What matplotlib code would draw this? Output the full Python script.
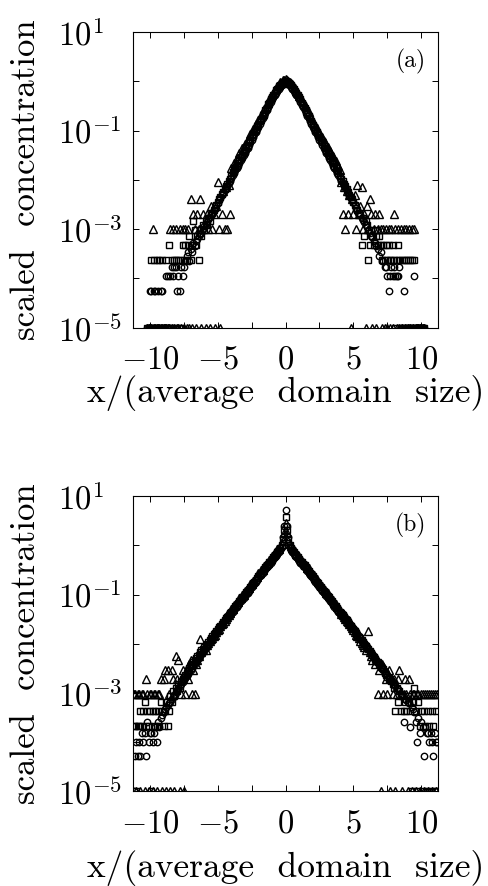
import numpy as np
import matplotlib
matplotlib.use("Agg")
import matplotlib.pyplot as plt
from matplotlib.ticker import NullLocator, FixedLocator

plt.rcParams['font.family'] = 'cmr10'
plt.rcParams['mathtext.fontset'] = 'cm'
plt.rcParams['axes.unicode_minus'] = False

# sites with no particles are put on the bottom edge of the plot
FLOOR = 1e-5

# ---------------- panel (a) ----------------
# log10 of scaled concentration near the centre, x = -4.0 ... 4.0 in steps of 0.1
tri_a_core = [-1.76, -1.77, -1.66, -1.67, -1.56, -1.57, -1.46, -1.47, -1.35, -1.36,
              -1.28, -1.29, -1.18, -1.19, -1.07, -1.08, -0.97, -0.98, -0.86, -0.87,
              -0.79, -0.77, -0.68, -0.66, -0.57, -0.55, -0.46, -0.44, -0.36, -0.33,
              -0.27, -0.24, -0.18, -0.15, -0.09, -0.07, -0.02, -0.01, 0.02, 0.03,
              0.04,
              0.03, 0.01, -0.01, -0.04, -0.06, -0.11, -0.14, -0.20, -0.23, -0.29,
              -0.31, -0.38, -0.42, -0.49, -0.52, -0.60, -0.63, -0.71, -0.74, -0.82,
              -0.84, -0.91, -0.95, -1.02, -1.04, -1.11, -1.13, -1.22, -1.24, -1.32,
              -1.33, -1.40, -1.42, -1.50, -1.52, -1.60, -1.62, -1.70, -1.72, -1.80]
sq_a_core = [-1.92, -1.85, -1.82, -1.75, -1.72, -1.65, -1.62, -1.54, -1.51, -1.44,
             -1.41, -1.34, -1.31, -1.23, -1.20, -1.13, -1.10, -1.02, -0.99, -0.91,
             -0.88, -0.80, -0.77, -0.69, -0.66, -0.58, -0.55, -0.47, -0.44, -0.36,
             -0.33, -0.27, -0.24, -0.18, -0.15, -0.10, -0.08, -0.04, -0.03, -0.01,
             0.00,
             -0.01, -0.03, -0.05, -0.08, -0.11, -0.15, -0.19, -0.24, -0.28, -0.33,
             -0.37, -0.44, -0.48, -0.55, -0.59, -0.66, -0.70, -0.77, -0.81, -0.88,
             -0.92, -0.99, -1.03, -1.10, -1.14, -1.20, -1.24, -1.31, -1.35, -1.41,
             -1.45, -1.51, -1.55, -1.62, -1.66, -1.72, -1.76, -1.82, -1.86, -1.92]
circ_a_core = [-1.96, -1.91, -1.86, -1.81, -1.76, -1.71, -1.66, -1.60, -1.55, -1.50,
               -1.45, -1.40, -1.35, -1.29, -1.24, -1.19, -1.14, -1.08, -1.03, -0.97,
               -0.92, -0.86, -0.81, -0.75, -0.70, -0.64, -0.59, -0.53, -0.48, -0.42,
               -0.37, -0.32, -0.27, -0.23, -0.19, -0.15, -0.11, -0.08, -0.06, -0.05,
               -0.04,
               -0.05, -0.06, -0.08, -0.11, -0.15, -0.19, -0.23, -0.27, -0.32, -0.37,
               -0.42, -0.48, -0.53, -0.59, -0.64, -0.70, -0.75, -0.81, -0.86, -0.92,
               -0.97, -1.03, -1.08, -1.14, -1.19, -1.24, -1.29, -1.35, -1.40, -1.45,
               -1.50, -1.55, -1.60, -1.66, -1.71, -1.76, -1.81, -1.86, -1.91, -1.96]

# particle counts in the tails, x = -10.2 ... -4.1 and 4.1 ... 10.2 in steps of 0.1
tri_a_left = [0, 0, 0, 0, 1, 0, 0, 0, 0, 0,
              0, 0, 0, 0, 0, 0, 0, 1, 0, 1,
              0, 1, 0, 0, 1, 0, 1, 0, 1, 0,
              1, 0, 4, 0, 2, 1, 0, 2, 1, 4,
              0, 2, 1, 0, 2, 1, 0, 3, 1, 2,
              0, 3, 9, 1, 0, 2, 6, 1, 7, 1,
              8, 2]
tri_a_right = [9, 2, 7, 1, 6, 2, 5, 0, 4, 2,
               5, 1, 8, 2, 3, 7, 1, 2, 0, 3,
               1, 4, 2, 0, 1, 2, 0, 1, 2, 1,
               0, 1, 0, 1, 0, 1, 0, 1, 0, 2,
               1, 0, 1, 0, 1, 0, 1, 0, 1, 0,
               1, 0, 1, 0, 1, 0, 0, 0, 0, 0,
               0, 0]
sq_a_left = [0, 0, 0, 1, 0, 1, 0, 1, 0, 1,
             0, 1, 0, 0, 1, 0, 2, 0, 1, 0,
             1, 1, 0, 1, 1, 0, 2, 1, 2, 1,
             2, 3, 1, 2, 6, 4, 2, 3, 1, 4,
             3, 5, 4, 6, 5, 7, 6, 8, 9, 10,
             11, 13, 15, 17, 19, 22, 24, 27, 31, 35,
             39, 44]
sq_a_right = [43, 39, 34, 31, 27, 24, 21, 19, 17, 15,
              13, 11, 10, 9, 8, 2, 7, 3, 6, 5,
              1, 2, 4, 3, 2, 4, 3, 2, 3, 2,
              1, 2, 1, 2, 1, 2, 1, 1, 2, 1,
              0, 1, 2, 1, 0, 1, 1, 0, 1, 1,
              0, 1, 1, 0, 1, 0, 0, 0, 0, 0,
              0, 0]
circ_a_left = [0, 0, 1, 1, 0, 1, 1, 0, 1, 0,
               1, 1, 0, 0, 2, 2, 0, 2, 3, 2,
               3, 3, 1, 2, 1, 3, 2, 3, 4, 5,
               6, 4, 7, 6, 9, 8, 10, 11, 13, 14,
               15, 18, 20, 22, 25, 28, 31, 35, 38, 43,
               48, 54, 60, 68, 76, 85, 95, 107, 120, 134,
               150, 168]
circ_a_right = [170, 152, 136, 121, 108, 96, 86, 77, 69, 61,
                54, 48, 43, 38, 34, 30, 27, 24, 21, 19,
                17, 15, 13, 12, 10, 9, 8, 7, 5, 6,
                4, 4, 3, 3, 2, 1, 2, 3, 2, 3,
                2, 2, 2, 3, 0, 0, 1, 0, 0, 0,
                0, 0, 0, 0, 2, 0, 0, 0, 0, 0,
                0, 0]
# concentration of one particle for each curve
q_a = [1.0e-3, 2.4e-4, 5.7e-5]

# ---------------- panel (b) ----------------
tri_b_core = [-1.29, -1.29, -1.22, -1.22, -1.15, -1.15, -1.08, -1.08, -1.00, -1.00,
              -0.93, -0.93, -0.86, -0.86, -0.79, -0.79, -0.72, -0.72, -0.64, -0.64,
              -0.57, -0.57, -0.50, -0.50, -0.43, -0.43, -0.36, -0.36, -0.29, -0.28,
              -0.21, -0.21, -0.14, -0.14, -0.08, -0.07, -0.01, 0.02, 0.08, 0.25,
              0.45,
              0.25, 0.08, 0.02, -0.02, -0.06, -0.10, -0.12, -0.17, -0.19, -0.24,
              -0.26, -0.31, -0.33, -0.39, -0.40, -0.46, -0.47, -0.53, -0.54, -0.60,
              -0.61, -0.67, -0.68, -0.75, -0.76, -0.82, -0.83, -0.89, -0.90, -0.96,
              -0.97, -1.04, -1.05, -1.11, -1.12, -1.18, -1.19, -1.25, -1.26, -1.32]
sq_b_core = [-1.35, -1.31, -1.28, -1.24, -1.21, -1.17, -1.13, -1.10, -1.06, -1.03,
             -0.99, -0.95, -0.92, -0.88, -0.85, -0.81, -0.77, -0.74, -0.70, -0.67,
             -0.63, -0.59, -0.56, -0.52, -0.49, -0.45, -0.41, -0.38, -0.34, -0.31,
             -0.27, -0.24, -0.20, -0.17, -0.13, -0.09, -0.05, 0.00, 0.12, 0.32,
             0.58,
             0.32, 0.12, 0.00, -0.05, -0.09, -0.13, -0.17, -0.20, -0.24, -0.27,
             -0.31, -0.34, -0.38, -0.41, -0.45, -0.49, -0.52, -0.56, -0.59, -0.63,
             -0.67, -0.70, -0.74, -0.77, -0.81, -0.85, -0.88, -0.92, -0.95, -0.99,
             -1.03, -1.06, -1.10, -1.13, -1.17, -1.21, -1.24, -1.28, -1.31, -1.35]
circ_b_core = [-1.39, -1.35, -1.32, -1.28, -1.25, -1.21, -1.17, -1.14, -1.10, -1.07,
               -1.03, -0.99, -0.96, -0.92, -0.89, -0.85, -0.81, -0.78, -0.74, -0.71,
               -0.67, -0.63, -0.60, -0.56, -0.53, -0.49, -0.45, -0.42, -0.38, -0.35,
               -0.31, -0.28, -0.24, -0.21, -0.17, -0.13, -0.09, -0.04, 0.16, 0.40,
               0.72,
               0.40, 0.16, -0.04, -0.09, -0.13, -0.17, -0.21, -0.24, -0.28, -0.31,
               -0.35, -0.38, -0.42, -0.45, -0.49, -0.53, -0.56, -0.60, -0.63, -0.67,
               -0.71, -0.74, -0.78, -0.81, -0.85, -0.89, -0.92, -0.96, -0.99, -1.03,
               -1.07, -1.10, -1.14, -1.17, -1.21, -1.25, -1.28, -1.32, -1.35, -1.39]

# tails, x = -11.2 ... -4.1 and 4.1 ... 11.2 in steps of 0.1
tri_b_left = [1, 1, 0, 1, 1, 0, 1, 1, 0, 2,
              1, 0, 1, 1, 0, 1, 1, 0, 1, 1,
              2, 0, 2, 3, 0, 3, 1, 0, 3, 2,
              0, 6, 2, 5, 0, 1, 3, 0, 1, 3,
              2, 4, 5, 1, 3, 1, 4, 5, 6, 13,
              7, 8, 9, 8, 10, 11, 12, 13, 14, 15,
              16, 18, 20, 21, 24, 26, 28, 31, 34, 37,
              40, 44]
tri_b_right = [43, 40, 37, 34, 31, 29, 26, 24, 22, 20,
               18, 16, 15, 14, 12, 11, 10, 9, 8, 9,
               19, 7, 6, 5, 6, 4, 5, 1, 3, 0,
               4, 1, 3, 2, 1, 3, 0, 2, 1, 2,
               0, 1, 2, 3, 1, 0, 1, 2, 1, 0,
               2, 1, 0, 1, 1, 0, 1, 1, 0, 1,
               1, 0, 1, 1, 0, 1, 1, 0, 1, 1,
               0, 1]
sq_b_left = [1, 1, 0, 1, 1, 2, 1, 2, 3, 1,
             2, 1, 2, 0, 2, 1, 2, 1, 2, 1,
             3, 2, 1, 2, 3, 1, 2, 4, 3, 5,
             4, 6, 5, 7, 6, 8, 9, 10, 11, 12,
             13, 15, 17, 18, 20, 22, 24, 26, 28, 31,
             34, 37, 40, 43, 47, 51, 56, 61, 66, 72,
             78, 85, 92, 100, 109, 119, 129, 140, 152, 166,
             181, 196]
sq_b_right = [195, 180, 165, 151, 139, 128, 117, 108, 99, 91,
              84, 77, 71, 65, 60, 55, 50, 46, 42, 39,
              36, 33, 30, 28, 25, 23, 21, 20, 18, 16,
              15, 14, 12, 11, 10, 9, 9, 8, 7, 6,
              2, 6, 3, 5, 2, 4, 2, 3, 2, 4,
              3, 2, 0, 3, 6, 2, 0, 3, 1, 2,
              0, 2, 1, 0, 2, 1, 0, 2, 1, 0,
              2, 0]
circ_b_left = [0, 1, 2, 1, 2, 1, 3, 2, 3, 1,
               5, 2, 3, 3, 2, 3, 4, 2, 5, 4,
               6, 7, 8, 9, 10, 11, 12, 13, 15, 16,
               18, 20, 22, 24, 27, 30, 33, 36, 40, 44,
               48, 53, 58, 64, 70, 77, 84, 92, 101, 111,
               122, 134, 147, 161, 177, 194, 213, 234, 257, 282,
               310, 340, 373, 410, 450, 494, 542, 595, 653, 717,
               787, 864]
circ_b_right = [860, 790, 725, 665, 610, 560, 515, 472, 433, 397,
                364, 334, 307, 281, 258, 237, 217, 199, 183, 168,
                154, 141, 130, 119, 109, 100, 92, 84, 77, 71,
                65, 60, 55, 50, 46, 42, 39, 36, 33, 30,
                27, 25, 23, 21, 19, 18, 5, 15, 14, 13,
                12, 4, 10, 9, 8, 5, 2, 6, 3, 5,
                4, 1, 4, 3, 3, 2, 3, 2, 1, 3,
                2, 2]
q_b = [9.5e-4, 2.14e-4, 5.1e-5]

markers = [('^', 5.2), ('s', 4.2), ('o', 4.6)]


def tail_x(start, counts):
    return np.round(start + 0.1 * np.arange(len(counts)), 1)


def counts_to_conc(counts, q):
    n = np.asarray(counts, dtype=float)
    return np.where(n > 0, n * q, FLOOR)


def draw_panel(ax, cores, lefts, rights, qs, x_edge, tag):
    x_core = np.round(np.linspace(-4.0, 4.0, len(cores[0])), 1)
    for (m, ms), core, left, right, q in zip(markers, cores, lefts, rights, qs):
        x = np.concatenate([tail_x(-x_edge, left), x_core, tail_x(4.1, right)])
        y = np.concatenate([counts_to_conc(left, q), 10 ** np.asarray(core),
                            counts_to_conc(right, q)])
        ax.plot(x, y, ls='none', marker=m, ms=ms, mfc='none', mec='black', mew=1.0)

    ax.set_yscale('log')
    ax.set_ylim(1e-5, 1e1)
    ax.set_xlim(-11.25, 11.25)
    ax.yaxis.set_major_locator(FixedLocator([1e1, 1e0, 1e-1, 1e-2, 1e-3, 1e-4, 1e-5]))
    ax.set_yticklabels(['$10^{1}$', '', '$10^{-1}$', '', '$10^{-3}$', '', '$10^{-5}$'])
    ax.yaxis.set_minor_locator(NullLocator())
    ax.set_xticks([-10, -5, 0, 5, 10])
    ax.set_xticklabels(['$-10$', '$-5$', '$0$', '$5$', '$10$'])
    ax.xaxis.set_minor_locator(FixedLocator([-7.5, -2.5, 2.5, 7.5]))
    ax.tick_params(which='both', direction='in', top=True, right=True,
                   length=4, width=0.7, labelsize=23.5)
    ax.tick_params(axis='x', pad=13)
    ax.tick_params(axis='y', pad=54)
    for t in ax.get_yticklabels():
        t.set_ha('left')
    for s in ax.spines.values():
        s.set_linewidth(0.8)
    ax.text(0.91, 0.90, tag, transform=ax.transAxes, ha='center', va='center',
            fontsize=17)
    ax.set_ylabel('scaled  concentration', fontsize=25)
    ax.yaxis.label.set_va('center')
    ax.yaxis.set_label_coords(-0.351, 0.5)
    ax.set_xlabel('x/(average  domain  size)', fontsize=25.5)
    ax.xaxis.label.set_va('center')


fig = plt.figure(figsize=(4.89, 8.86), dpi=100)
ax1 = fig.add_axes([0.272, 0.630, 0.624, 0.334])
ax2 = fig.add_axes([0.272, 0.107, 0.624, 0.333])

draw_panel(ax1, [tri_a_core, sq_a_core, circ_a_core], [tri_a_left, sq_a_left, circ_a_left],
           [tri_a_right, sq_a_right, circ_a_right], q_a, 10.2, '(a)')
ax1.xaxis.set_label_coords(0.5, -0.22)

draw_panel(ax2, [tri_b_core, sq_b_core, circ_b_core], [tri_b_left, sq_b_left, circ_b_left],
           [tri_b_right, sq_b_right, circ_b_right], q_b, 11.2, '(b)')
ax2.xaxis.set_label_coords(0.5, -0.261)

fig.savefig('out.png', dpi=100)
